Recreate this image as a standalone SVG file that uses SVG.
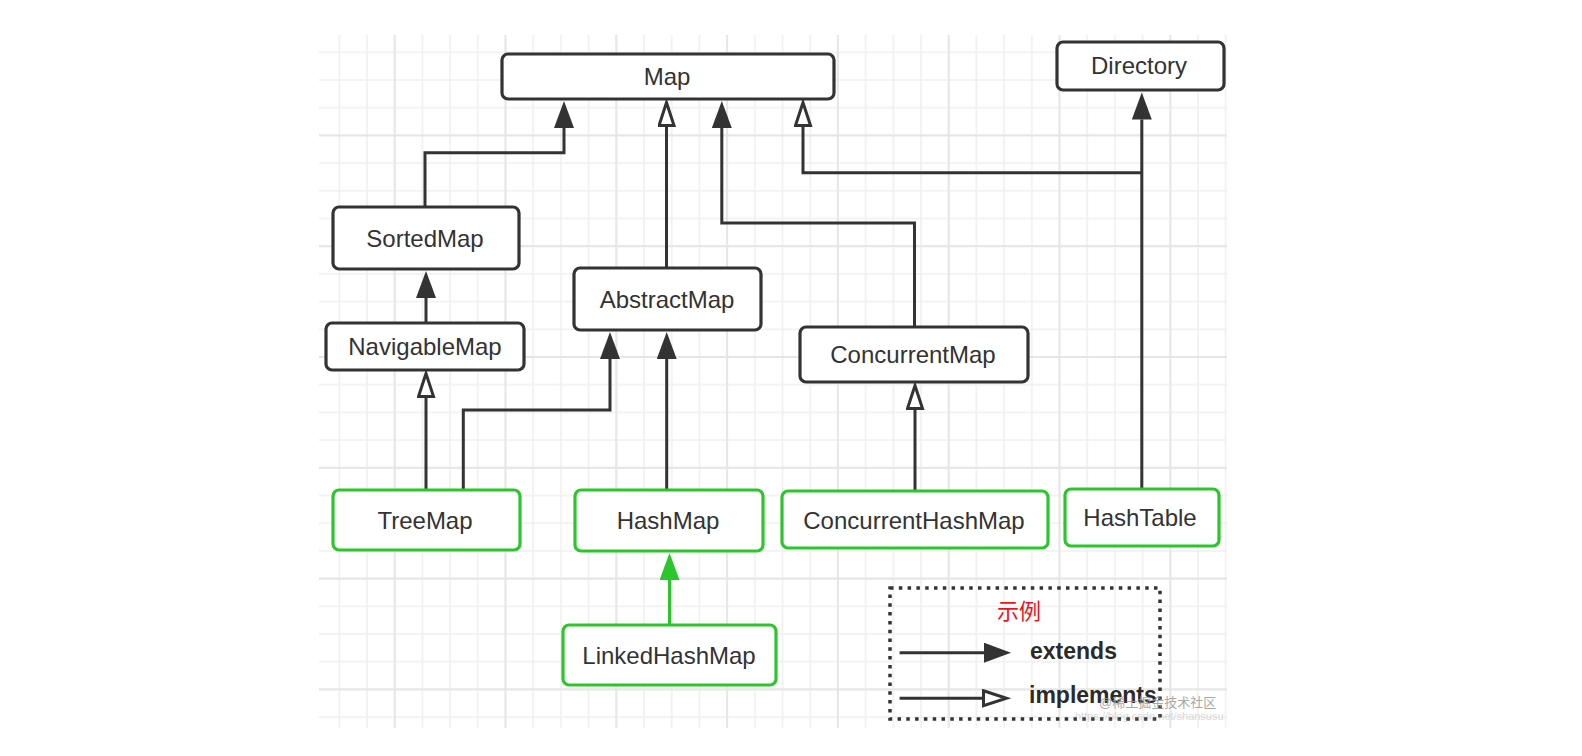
<svg xmlns="http://www.w3.org/2000/svg" width="1582" height="756" viewBox="0 0 1582 756">
  <style>
    .box { fill: #ffffff; stroke: #333333; stroke-width: 3.2; }
    .box.impl { stroke: #2cc52c; }
    .label { font-family: "Liberation Sans", Arial, sans-serif; font-size: 24px; fill: #333333; text-anchor: middle; }
    .link { fill: none; stroke: #333333; stroke-width: 3; }
    .link.green { stroke: #2cc52c; }
    .legend-text { font-family: "Liberation Sans", Arial, sans-serif; font-size: 23px; font-weight: bold; fill: #2a2a2a; }
  </style>
  <defs>
    <!-- background grid: minor cells every 27.7px, major every 4 cells -->
    <pattern id="gridMinor" patternUnits="userSpaceOnUse" x="338.3" y="51.3" width="27.7" height="27.7">
      <path d="M0,1 H27.7 M1,0 V27.7" stroke="#f0f0f0" stroke-width="1.6" fill="none"/>
    </pattern>
    <pattern id="gridMajor" patternUnits="userSpaceOnUse" x="393.7" y="134.4" width="110.8" height="110.8">
      <path d="M0,1 H110.8 M1,0 V110.8" stroke="#e6e6e6" stroke-width="1.8" fill="none"/>
    </pattern>
    <!-- solid head: extends -->
    <marker id="extends" markerUnits="userSpaceOnUse" markerWidth="28" markerHeight="20" refX="0" refY="10" orient="auto">
      <path d="M0,0 L27,10 L0,20 Z" fill="#333333"/>
    </marker>
    <marker id="extendsGreen" markerUnits="userSpaceOnUse" markerWidth="28" markerHeight="20" refX="0" refY="10" orient="auto">
      <path d="M0,0 L27,10 L0,20 Z" fill="#2cc52c"/>
    </marker>
    <!-- hollow head: implements -->
    <marker id="implements" markerUnits="userSpaceOnUse" markerWidth="30" markerHeight="20" refX="0" refY="9" orient="auto">
      <path d="M1.5,1.5 L24.5,9 L1.5,16.5 Z" fill="#ffffff" stroke="#333333" stroke-width="3"/>
    </marker>
  </defs>

  <rect x="0" y="0" width="1582" height="756" fill="#ffffff"/>
  <rect x="319" y="35" width="908" height="693" fill="url(#gridMinor)"/>
  <rect x="319" y="35" width="908" height="693" fill="url(#gridMajor)"/>

  <!-- connectors -->
  <g id="connectors">
    <path class="link" d="M425,207 V152.7 H564 V128" marker-end="url(#extends)"/>
    <path class="link" d="M666.5,268 V127" marker-end="url(#implements)"/>
    <path class="link" d="M914.5,327 V223 H721.8 V128" marker-end="url(#extends)"/>
    <path class="link" d="M1141.8,172.7 H803 V127" marker-end="url(#implements)"/>
    <path class="link" d="M1141.8,489 V119.5" marker-end="url(#extends)"/>
    <path class="link" d="M426,323 V298" marker-end="url(#extends)"/>
    <path class="link" d="M426,490 V398" marker-end="url(#implements)"/>
    <path class="link" d="M463.3,490 V410 H610 V359" marker-end="url(#extends)"/>
    <path class="link" d="M666.7,490 V359" marker-end="url(#extends)"/>
    <path class="link" d="M915,491 V410" marker-end="url(#implements)"/>
    <path class="link green" d="M669.5,625 V580" marker-end="url(#extendsGreen)"/>
  </g>

  <!-- interfaces and abstract types -->
  <g id="node-map">
    <rect class="box" x="502" y="54" width="332" height="45" rx="6"/>
    <text class="label" x="667" y="85">Map</text>
  </g>
  <g id="node-directory">
    <rect class="box" x="1057" y="42" width="167" height="48" rx="6"/>
    <text class="label" x="1139" y="74">Directory</text>
  </g>
  <g id="node-sortedmap">
    <rect class="box" x="333" y="207" width="186" height="62" rx="6"/>
    <text class="label" x="425" y="247">SortedMap</text>
  </g>
  <g id="node-abstractmap">
    <rect class="box" x="574" y="268" width="187" height="62" rx="6"/>
    <text class="label" x="667" y="308">AbstractMap</text>
  </g>
  <g id="node-navigablemap">
    <rect class="box" x="326" y="323" width="198" height="47" rx="6"/>
    <text class="label" x="425" y="355">NavigableMap</text>
  </g>
  <g id="node-concurrentmap">
    <rect class="box" x="800" y="327" width="228" height="55" rx="6"/>
    <text class="label" x="913" y="363">ConcurrentMap</text>
  </g>

  <!-- concrete classes -->
  <g id="node-treemap">
    <rect class="box impl" x="333" y="490" width="187" height="60" rx="6"/>
    <text class="label" x="425" y="529">TreeMap</text>
  </g>
  <g id="node-hashmap">
    <rect class="box impl" x="575" y="490" width="188" height="61" rx="6"/>
    <text class="label" x="668" y="529">HashMap</text>
  </g>
  <g id="node-concurrenthashmap">
    <rect class="box impl" x="782" y="491" width="266" height="57" rx="6"/>
    <text class="label" x="914" y="529">ConcurrentHashMap</text>
  </g>
  <g id="node-hashtable">
    <rect class="box impl" x="1065" y="489" width="154" height="57" rx="6"/>
    <text class="label" x="1140" y="526">HashTable</text>
  </g>
  <g id="node-linkedhashmap">
    <rect class="box impl" x="563" y="625" width="213" height="60" rx="6"/>
    <text class="label" x="669" y="664">LinkedHashMap</text>
  </g>

  <!-- legend -->
  <g id="legend">
    <rect x="890" y="588" width="270" height="131" fill="none" stroke="#333333" stroke-width="3.5" stroke-dasharray="3.5 5.3"/>
    <text x="1019" y="619" font-family="'Noto Sans CJK SC', sans-serif" font-size="22" fill="#e8141c" text-anchor="middle">示例</text>
    <path class="link" d="M899.6,652.7 H984" marker-end="url(#extends)"/>
    <text class="legend-text" x="1030" y="659">extends</text>
    <path class="link" d="M899.6,698.3 H982" marker-end="url(#implements)"/>
    <text class="legend-text" x="1029" y="703">implements</text>
  </g>

  <!-- watermark -->
  <g id="watermark" font-family="'Liberation Sans', 'Noto Sans CJK SC', sans-serif" fill="#9a9a9a">
    <text x="1099" y="707" font-size="13" opacity="0.85">@稀土掘金技术社区</text>
    <text x="1075" y="720" font-size="11" opacity="0.35">https://blog.csdn.net/shansusu</text>
  </g>
</svg>
